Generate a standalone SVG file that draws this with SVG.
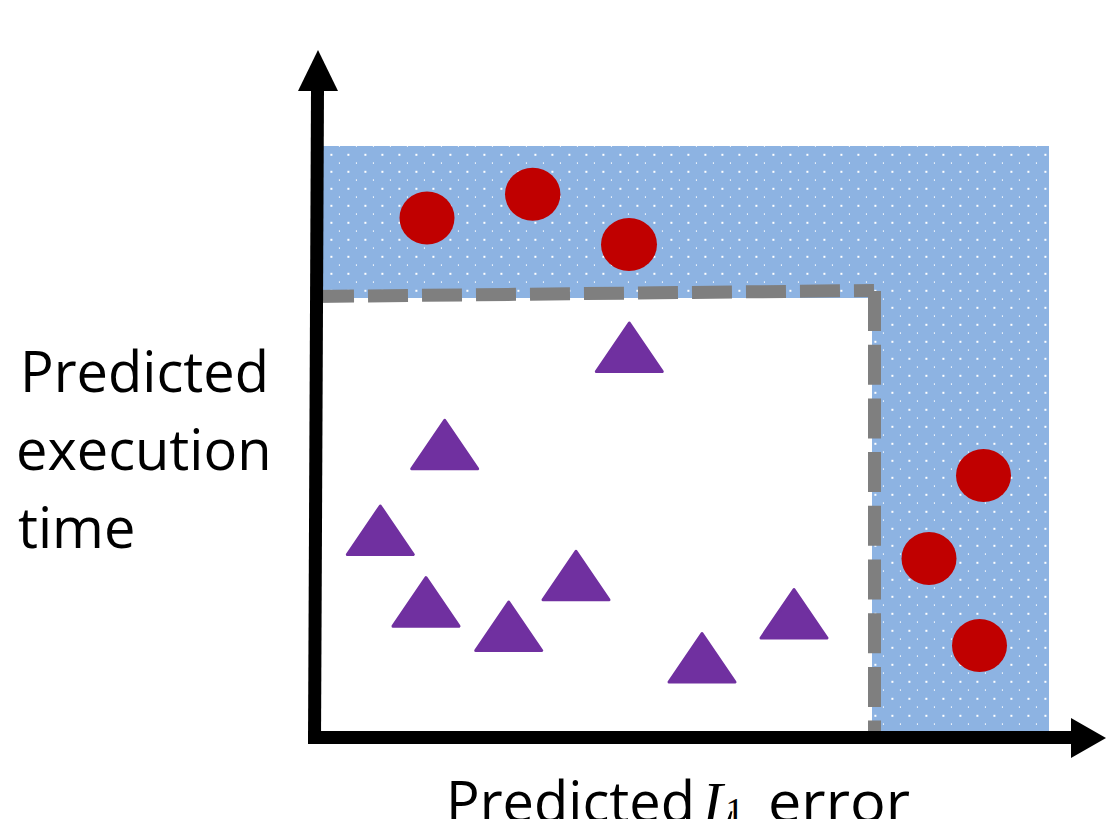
<svg xmlns="http://www.w3.org/2000/svg" width="1106" height="819" viewBox="0 0 1106 819">
  <style>
    .lbl { font-family: "Open Sans", "Liberation Sans", sans-serif; font-size: 56px; fill: #000; }
    .pt { fill: #c00000; }
    .tri { fill: #7030a0; stroke: #7030a0; stroke-width: 3; stroke-linejoin: round; }
    .dash { stroke: #7f7f7f; stroke-width: 13; fill: none; stroke-linecap: butt; }
    .axis { stroke: #000; stroke-width: 13; fill: none; stroke-linecap: butt; }
  </style>
  <defs>
    <pattern id="dots" patternUnits="userSpaceOnUse" x="0" y="0" width="17" height="17">
      <rect x="0" y="0" width="17" height="17" fill="#8db3e2"/>
      <rect x="7.4" y="0.8" width="2" height="2" fill="#ffffff"/>
      <rect x="15.9" y="9.3" width="1.6" height="1.6" fill="#ffffff" opacity="0.85"/>
    </pattern>
    <path id="triangle" d="M0,2 L33,50.5 L-33,50.5 Z"/>
  </defs>
  <rect width="1106" height="819" fill="#ffffff"/>

  <g id="region-blue">
    <rect x="323" y="146" width="726" height="585" fill="url(#dots)"/>
    <rect x="323" y="298" width="549" height="433" fill="#ffffff"/>
  </g>

  <g id="threshold">
    <line class="dash" x1="314" y1="296.5" x2="874" y2="290.5" stroke-dasharray="40 14"/>
    <line class="dash" x1="874.5" y1="291" x2="874.5" y2="736" stroke-dasharray="40 13.7"/>
  </g>

  <g id="circles">
    <ellipse id="c1" class="pt" cx="427" cy="218" rx="27.5" ry="26.5"/>
    <ellipse id="c2" class="pt" cx="532.7" cy="194.2" rx="27.7" ry="26.5"/>
    <ellipse id="c3" class="pt" cx="629" cy="244.5" rx="28" ry="26.5"/>
    <ellipse id="c4" class="pt" cx="983.5" cy="475.5" rx="27.5" ry="26.5"/>
    <ellipse id="c5" class="pt" cx="929" cy="558.5" rx="27.5" ry="26.5"/>
    <ellipse id="c6" class="pt" cx="979.5" cy="645.5" rx="27.5" ry="26.5"/>
  </g>

  <g id="triangles">
    <use id="t1" href="#triangle" class="tri" transform="translate(629.3,321)"/>
    <use id="t2" href="#triangle" class="tri" transform="translate(444.7,418.3)"/>
    <use id="t3" href="#triangle" class="tri" transform="translate(380.3,504)"/>
    <use id="t4" href="#triangle" class="tri" transform="translate(576,549.3)"/>
    <use id="t5" href="#triangle" class="tri" transform="translate(426,575.7)"/>
    <use id="t6" href="#triangle" class="tri" transform="translate(508.7,600)"/>
    <use id="t7" href="#triangle" class="tri" transform="translate(702,631.5)"/>
    <use id="t8" href="#triangle" class="tri" transform="translate(794,587.5)"/>
  </g>

  <g id="axes">
    <line class="axis" x1="314.5" y1="744" x2="317.5" y2="90"/>
    <polygon points="318,50 338,91 298,91" fill="#000"/>
    <line class="axis" x1="308" y1="737.5" x2="1072" y2="737.5"/>
    <polygon points="1071,718 1106,738 1071,758" fill="#000"/>
  </g>

  <g id="y-label">
    <text class="lbl" x="20" y="392">Predicted</text>
    <text class="lbl" x="16" y="470">execution</text>
    <text class="lbl" x="18" y="548">time</text>
  </g>

  <g id="x-label">
    <text class="lbl" x="446" y="822">Predicted</text>
    <text x="703" y="822" font-family="Liberation Serif, serif" font-size="58"><tspan font-style="italic">L</tspan><tspan dx="-10" dy="2" font-size="38">1</tspan></text>
    <text class="lbl" x="768" y="822" textLength="142" lengthAdjust="spacingAndGlyphs">error</text>
  </g>
</svg>
